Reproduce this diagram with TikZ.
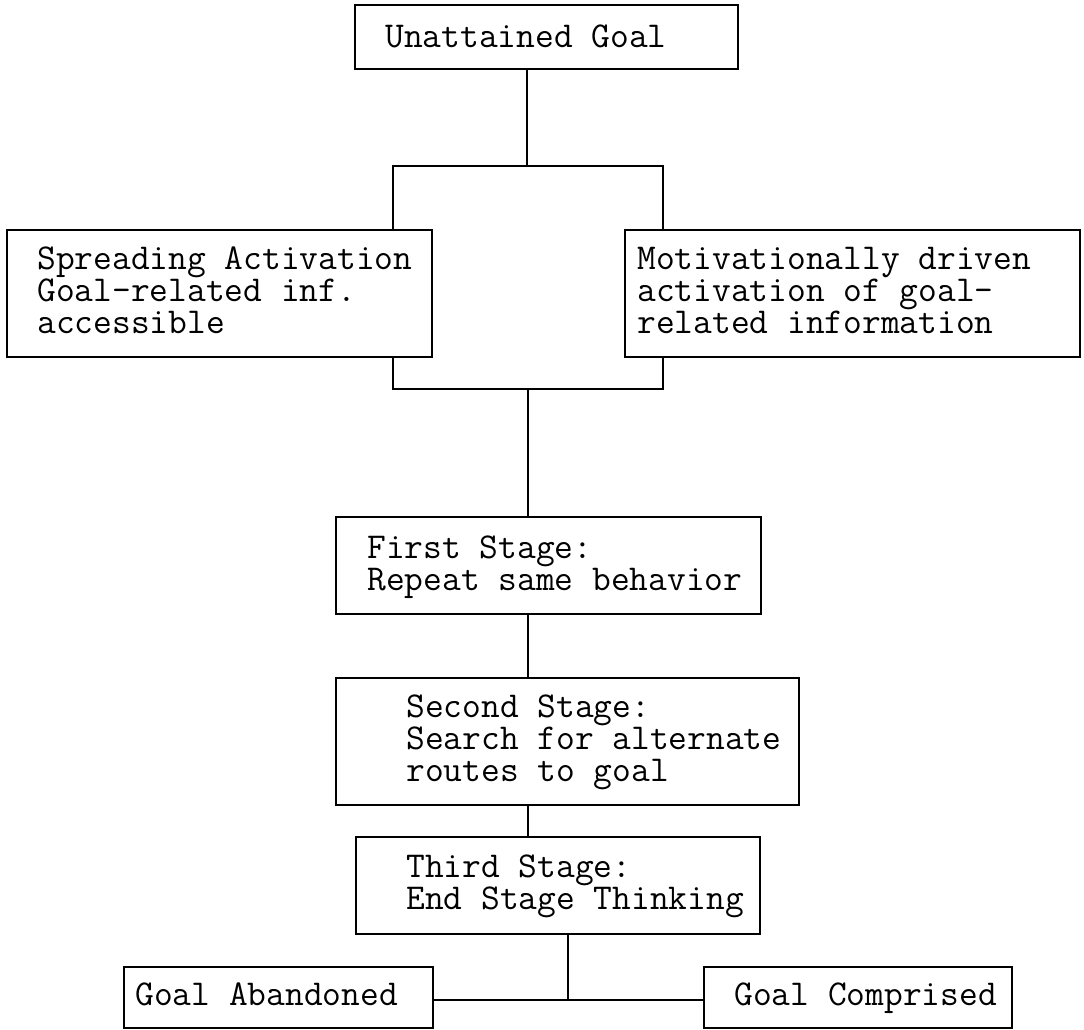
\documentclass[tikz,border=0pt]{standalone}
\usepackage{fontspec}

\begin{document}
\begin{tikzpicture}[x=0.5pt,y=-0.5pt,
  box/.style={draw,line width=1pt,inner sep=0pt},
  txt/.style={anchor=base west,align=left,inner sep=0pt,font=\ttfamily\fontsize{18.2}{16}\selectfont},
  link/.style={line width=0.8pt}]
  \useasboundingbox (0,0) rectangle (1084,1030);
  % boxes
  \node[box,minimum width=191.5pt,minimum height=32pt] (goal) at (546.5,37) {};
  \node[box,minimum width=212.5pt,minimum height=63.5pt] (spread) at (219.5,293.5) {};
  \node[box,minimum width=227.5pt,minimum height=63.5pt] (motiv) at (852.5,293.5) {};
  \node[box,minimum width=212.5pt,minimum height=48.5pt] (first) at (548.5,565.5) {};
  \node[box,minimum width=231.5pt,minimum height=63.5pt] (second) at (567.5,741.5) {};
  \node[box,minimum width=202pt,minimum height=48.5pt] (third) at (558,885.5) {};
  \node[box,minimum width=154.5pt,minimum height=30.5pt] (abandon) at (278.5,997.5) {};
  \node[box,minimum width=154pt,minimum height=30.5pt] (comprise) at (858,997.5) {};
  % texts (anchored at the baseline of the last line)
  \node[txt] (goal-t) at (385,47) {Unattained Goal};
  \node[txt] (spread-t) at (37,333) {Spreading Activation\\Goal-related inf.\\accessible};
  \node[txt] (motiv-t) at (637,333) {Motivationally driven\\activation of goal-\\related information};
  \node[txt] (first-t) at (367,590) {First Stage:\\Repeat same behavior};
  \node[txt] (second-t) at (406,781) {Second Stage:\\Search for alternate\\routes to goal};
  \node[txt] (third-t) at (406,909) {Third Stage:\\End Stage Thinking};
  \node[txt] (abandon-t) at (135,1005) {Goal Abandoned};
  \node[txt] (comprise-t) at (734,1005) {Goal Comprised};
  % joints
  \coordinate (splitT) at (527,166);
  \coordinate (lbranch) at (393,166);
  \coordinate (rbranch) at (663,166);
  \coordinate (lmerge) at (393,389);
  \coordinate (rmerge) at (663,389);
  \coordinate (joinB) at (528,389);
  \coordinate (split2) at (568,1000);
  % connectors
  \draw[link] (goal.south -| splitT) -- (splitT);
  \draw[link] (spread.north -| lbranch) -- (lbranch) -- (rbranch) -- (motiv.north -| rbranch);
  \draw[link] (spread.south -| lmerge) -- (lmerge) -- (rmerge) -- (motiv.south -| rmerge);
  \draw[link] (joinB) -- (first.north -| joinB);
  \draw[link] (first.south -| joinB) -- (second.north -| joinB);
  \draw[link] (second.south -| joinB) -- (third.north -| joinB);
  \draw[link] (third.south -| split2) -- (split2);
  \draw[link] (abandon.east |- split2) -- (comprise.west |- split2);
\end{tikzpicture}
\end{document}
